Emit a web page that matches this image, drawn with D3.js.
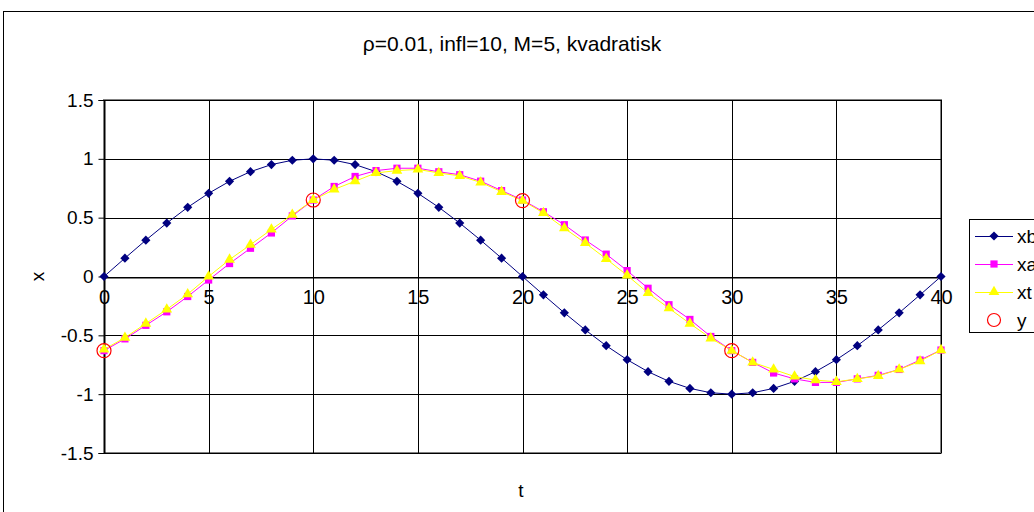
<!DOCTYPE html>
<html>
<head>
<meta charset="utf-8">
<script src="https://cdn.jsdelivr.net/npm/d3@7"></script>
<style>
  html, body { margin: 0; padding: 0; background: #fff; overflow: hidden; }
  svg { display: block; font-family: "Liberation Sans", Arial, sans-serif; }
</style>
</head>
<body>
<svg id="chart" width="1034" height="512"></svg>
<script>
// Time steps 0..40
const tValues = d3.range(0, 41);

// Series values
const xb = [0, 0.156, 0.309, 0.454, 0.588, 0.707, 0.809, 0.891, 0.951, 0.988, 1,
  0.988, 0.951, 0.891, 0.809, 0.707, 0.588, 0.454, 0.309, 0.156, 0,
  -0.156, -0.309, -0.454, -0.588, -0.707, -0.809, -0.891, -0.951, -0.988, -1,
  -0.988, -0.951, -0.891, -0.809, -0.707, -0.588, -0.454, -0.309, -0.156, 0];
const xa = [-0.63, -0.53, -0.415, -0.30, -0.17, -0.03, 0.11, 0.24, 0.37, 0.515, 0.65,
  0.765, 0.85, 0.90, 0.92, 0.92, 0.89, 0.865, 0.81, 0.73, 0.65,
  0.55, 0.44, 0.31, 0.19, 0.05, -0.10, -0.24, -0.365, -0.51, -0.63,
  -0.73, -0.82, -0.87, -0.90, -0.90, -0.87, -0.84, -0.79, -0.71, -0.625];
const xt = [-0.62, -0.52, -0.40, -0.28, -0.15, 0.00, 0.144, 0.27, 0.40, 0.525, 0.65,
  0.74, 0.81, 0.88, 0.90, 0.91, 0.88, 0.855, 0.80, 0.72, 0.645,
  0.54, 0.41, 0.285, 0.15, 0.01, -0.14, -0.27, -0.40, -0.525, -0.63,
  -0.73, -0.79, -0.85, -0.88, -0.895, -0.87, -0.845, -0.79, -0.72, -0.625];
// Observations
const yT = [0, 10, 20, 30];
const yObs = [-0.63, 0.65, 0.645, -0.63];

// Axis ticks
const xTicks = [0, 5, 10, 15, 20, 25, 30, 35, 40];
const yTicks = [-1.5, -1, -0.5, 0, 0.5, 1, 1.5];

const titleText = "\u03C1=0.01, infl=10, M=5, kvadratisk";
const legendNames = ["xb", "xa", "xt", "y"];

const svg = d3.select("#chart");
const plot = { left: 104, right: 941, top: 100, bottom: 453 };

const x = d3.scaleLinear().domain([0, 40]).range([plot.left, plot.right]);
const y = d3.scaleLinear().domain([-1.5, 1.5]).range([plot.bottom, plot.top]);

// Outer chart frame
svg.append("rect")
  .attr("x", 3.5).attr("y", 11.5).attr("width", 1200).attr("height", 700)
  .attr("fill", "#fff").attr("stroke", "#000").attr("stroke-width", 1);

// Title
svg.append("text")
  .attr("x", 512).attr("y", 51)
  .attr("text-anchor", "middle")
  .attr("font-size", 21)
  .text(titleText);

// Plot area border
svg.append("rect")
  .attr("x", plot.left).attr("y", plot.top)
  .attr("width", plot.right - plot.left).attr("height", plot.bottom - plot.top)
  .attr("fill", "#fff").attr("stroke", "#808080").attr("stroke-width", 2);

// Gridlines
const grid = svg.append("g");
grid.selectAll("line.h").data(yTicks).join("line")
  .attr("x1", plot.left).attr("x2", plot.right)
  .attr("y1", d => Math.round(y(d)) + 0.5).attr("y2", d => Math.round(y(d)) + 0.5)
  .attr("stroke", "#000").attr("stroke-width", 1);
grid.selectAll("line.v").data(xTicks).join("line")
  .attr("y1", plot.top).attr("y2", plot.bottom)
  .attr("x1", d => Math.round(x(d)) + 0.5).attr("x2", d => Math.round(x(d)) + 0.5)
  .attr("stroke", "#000").attr("stroke-width", 1);

// Y axis
const yAxis = d3.axisLeft(y).tickValues(yTicks).tickSize(6).tickPadding(5)
  .tickFormat(d => String(d));
const yg = svg.append("g").attr("transform", `translate(${plot.left + 0.5},0)`).call(yAxis);
yg.select(".domain").attr("stroke", "#000");
yg.selectAll(".tick line").attr("stroke", "#000");
yg.selectAll(".tick text").attr("font-size", 19).attr("font-family", "Liberation Sans, Arial, sans-serif").attr("fill", "#000");

// X axis across y = 0
const xAxis = d3.axisBottom(x).tickValues(xTicks).tickSize(0).tickPadding(12)
  .tickFormat(d => String(d));
const xg = svg.append("g").attr("transform", `translate(0,${Math.round(y(0)) + 0.5})`).call(xAxis);
xg.select(".domain").attr("stroke", "#000");
xg.selectAll(".tick text").attr("font-size", 20).attr("font-family", "Liberation Sans, Arial, sans-serif").attr("fill", "#000");

// Axis titles
svg.append("text")
  .attr("transform", `translate(44,${y(0)}) rotate(-90)`)
  .attr("text-anchor", "middle")
  .attr("font-size", 19)
  .text("x");
svg.append("text")
  .attr("x", 521).attr("y", 497)
  .attr("text-anchor", "middle")
  .attr("font-size", 19)
  .text("t");

const line = d3.line().x(d => x(d[0])).y(d => y(d[1]));

// Marker shapes: diamond is a square turned 45 degrees
const markers = {
  diamond: { type: d3.symbolSquare, size: 42, rotate: 45 },
  square: { type: d3.symbolSquare, size: 52, rotate: 0 },
  triangle: { type: d3.symbolTriangle, size: 50, rotate: 0 }
};

function series(values, color, marker) {
  const pts = tValues.map((t, i) => [t, values[i]]);
  const g = svg.append("g");
  g.append("path").datum(pts).attr("d", line)
    .attr("fill", "none").attr("stroke", color).attr("stroke-width", 1);
  g.selectAll("path.m").data(pts).join("path")
    .attr("transform", d => `translate(${x(d[0])},${y(d[1])}) rotate(${marker.rotate})`)
    .attr("d", d3.symbol().type(marker.type).size(marker.size))
    .attr("fill", color);
}

series(xb, "#000080", markers.diamond);
series(xa, "#FF00FF", markers.square);
series(xt, "#FFFF00", markers.triangle);

// Observation circles
svg.append("g").selectAll("circle").data(yT.map((t, i) => [t, yObs[i]])).join("circle")
  .attr("cx", d => x(d[0])).attr("cy", d => y(d[1])).attr("r", 7)
  .attr("fill", "none").attr("stroke", "#FF0000").attr("stroke-width", 1.2);

// Legend
const lg = svg.append("g");
lg.append("rect")
  .attr("x", 969.5).attr("y", 219.5).attr("width", 200).attr("height", 113)
  .attr("fill", "#fff").attr("stroke", "#000");
const legendStyles = [
  { color: "#000080", marker: markers.diamond },
  { color: "#FF00FF", marker: markers.square },
  { color: "#FFFF00", marker: markers.triangle },
  { color: "#FF0000", marker: null }
];
const legendY = [236, 264, 292, 320];
legendNames.forEach((name, i) => {
  const st = legendStyles[i];
  const cy = legendY[i];
  if (st.marker) {
    lg.append("line").attr("x1", 975).attr("x2", 1013).attr("y1", cy + 0.5).attr("y2", cy + 0.5)
      .attr("stroke", st.color).attr("stroke-width", 1);
    lg.append("path").attr("transform", `translate(994,${cy}) rotate(${st.marker.rotate})`)
      .attr("d", d3.symbol().type(st.marker.type).size(st.marker.size)).attr("fill", st.color);
  } else {
    lg.append("circle").attr("cx", 994).attr("cy", cy).attr("r", 6.5)
      .attr("fill", "none").attr("stroke", st.color).attr("stroke-width", 1.2);
  }
  lg.append("text").attr("x", 1017).attr("y", cy + 7).attr("font-size", 19).text(name);
});
</script>
</body>
</html>
